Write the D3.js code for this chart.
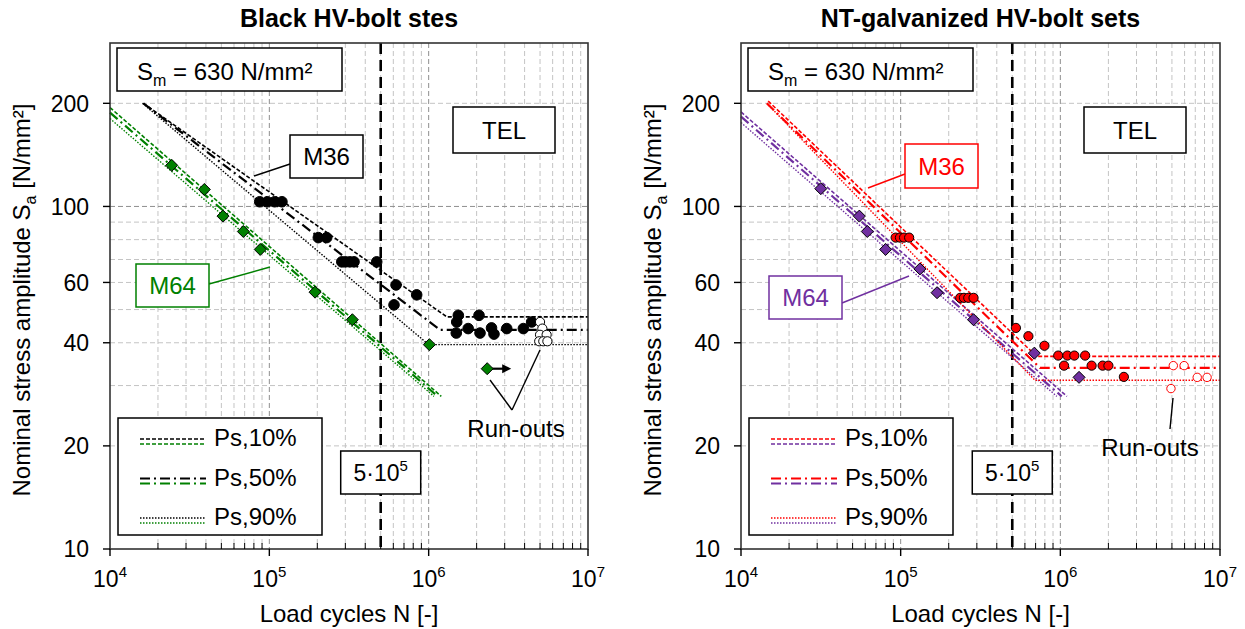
<!DOCTYPE html>
<html><head><meta charset="utf-8">
<script src="https://cdn.jsdelivr.net/npm/d3@7"></script>
<style>
body{margin:0;background:#fff}
svg{display:block}
text{font-family:"Liberation Sans",Arial,Helvetica,sans-serif;fill:#000}
</style>
</head><body>
<svg id="c" width="1245" height="629"></svg>
<script>
// ---------- axis / tick data ----------
const yTickValues = [10, 20, 40, 60, 100, 200];
const yGridValues = [20, 30, 40, 50, 60, 70, 80, 90, 100, 200];
const xTickExponents = [4, 5, 6, 7];
const legendLabels = ["Ps,10%", "Ps,50%", "Ps,90%"];
const panelTitles = ["Black HV-bolt stes", "NT-galvanized HV-bolt sets"];
const kneeCycles = [5e5];

// ---------- Black HV-bolt sets, M36 (black circles) ----------
const blackFailN = [87000, 97000, 108000, 120000, 203000, 229000, 285000, 300000, 320000, 340000, 472000, 624000, 841000, 606000,
  1535000, 2070000, 1500000, 1770000, 1490000, 2100000, 2480000, 2570000, 3090000, 3930000, 4430000];
const blackFailS = [103.2, 103.2, 103.2, 103.2, 81.1, 81.1, 68.9, 68.9, 68.9, 68.9, 68.9, 59.0, 55.2, 51.6,
  48.1, 48.1, 46.0, 44.0, 42.7, 42.7, 44.2, 42.4, 44.0, 44.0, 46.0];
const blackRunN = [5000000, 5170000, 5000000, 5500000, 4940000, 5240000, 5560000];
const blackRunS = [46.0, 44.0, 42.2, 42.2, 40.4, 40.4, 40.4];
// M36 black Ps lines
const blackP10N = [16200, 1300000, 1e7], blackP10S = [200, 47.6, 47.6];
const blackP50N = [16200, 1180000, 1e7], blackP50S = [200, 43.6, 43.6];
const blackP90N = [16000, 1000000, 1e7], blackP90S = [200, 39.5, 39.5];

// ---------- Black HV-bolt sets, M64 (green diamonds) ----------
const greenFailN = [24400, 39100, 51200, 68700, 87700, 193600, 332000, 1010000];
const greenFailS = [131.8, 112.1, 93.7, 84.5, 74.9, 56.2, 46.7, 39.5];
const greenRunN = [2330000];
const greenRunS = [33.6];
const greenP10N = [1e4, 1200000], greenP10S = [194.4, 27.9];
const greenP50N = [1e4, 1140000], greenP50S = [187.9, 27.9];
const greenP90N = [1e4, 1080000], greenP90S = [180.5, 27.9];

// ---------- NT-galvanized, M36 (red circles) ----------
const redFailN = [93000, 99000, 105000, 113000, 236000, 249000, 265000, 286000, 527000, 631000, 795000,
  970000, 1107000, 1224000, 1430000, 1055000, 1570000, 1840000, 2000000, 2500000];
const redFailS = [81.1, 81.1, 81.1, 81.1, 54.1, 54.1, 54.1, 54.1, 44.2, 41.8, 39.2,
  36.7, 36.7, 36.7, 36.7, 34.3, 34.3, 34.3, 34.3, 31.8];
const redRunN = [5100000, 5960000, 7200000, 8300000, 4930000];
const redRunS = [34.3, 34.3, 31.7, 31.7, 29.4];
const redP10N = [14800, 711000, 1e7], redP10S = [203, 36.5, 36.5];
const redP50N = [14500, 746000, 1e7], redP50S = [200, 33.8, 33.8];
const redP90N = [14800, 693000, 1e7], redP90S = [198, 31.1, 31.1];

// ---------- NT-galvanized, M64 (purple diamonds) ----------
const purpleFailN = [31600, 55100, 61800, 80500, 132000, 169000, 286000, 687000, 1310000];
const purpleFailS = [112.7, 93.7, 84.5, 74.9, 65.7, 56.0, 46.7, 37.3, 31.7];
const purpleP10N = [1e4, 1100000], purpleP10S = [188.7, 27.9];
const purpleP50N = [1e4, 1020000], purpleP50S = [182.9, 27.9];
const purpleP90N = [1e4, 950000], purpleP90S = [175.7, 27.9];

// ---------- styles ----------
const BLACK = "#000000", GREEN = "#008000", RED = "#ff0000", PURPLE = "#7030a0";
const lineStyles = {
  p10: {dash: "4,2", width: 1.6},
  p50: {dash: "10,4,2,4", width: 2.2},
  p90: {dash: "1.5,1.5", width: 1.4}
};

const svg = d3.select("#c");
const Y_TOP = 43, Y_BOT = 549;

const panels = [
  {
    x0: 110, x1: 588, title: panelTitles[0],
    colA: BLACK, colB: GREEN,
    lines: [
      {N: greenP10N, S: greenP10S, c: GREEN, s: "p10"},
      {N: greenP50N, S: greenP50S, c: GREEN, s: "p50"},
      {N: greenP90N, S: greenP90S, c: GREEN, s: "p90"},
      {N: blackP10N, S: blackP10S, c: BLACK, s: "p10"},
      {N: blackP50N, S: blackP50S, c: BLACK, s: "p50"},
      {N: blackP90N, S: blackP90S, c: BLACK, s: "p90"}
    ],
    points: [
      {N: blackFailN, S: blackFailS, shape: "circle", fill: "#000", stroke: "#000", r: 5.3},
      {N: blackRunN, S: blackRunS, shape: "circle", fill: "#fff", stroke: "#000", r: 4.6},
      {N: greenFailN, S: greenFailS, shape: "diamond", fill: GREEN, stroke: "#000", r: 6},
      {N: greenRunN, S: greenRunS, shape: "diamond", fill: GREEN, stroke: "#000", r: 6, arrow: true}
    ],
    m36: {box: [180, 135, 73, 43], leader: [180, 164, 144, 176], color: BLACK},
    m64: {box: [26, 264, 73, 43], leader: [99, 284, 160, 267], color: GREEN},
    runText: [406, 437],
    runLeaders: [[380, 380, 402, 410], [402, 410, 430, 350]]
  },
  {
    x0: 741, x1: 1220, title: panelTitles[1],
    colA: RED, colB: PURPLE,
    lines: [
      {N: purpleP10N, S: purpleP10S, c: PURPLE, s: "p10"},
      {N: purpleP50N, S: purpleP50S, c: PURPLE, s: "p50"},
      {N: purpleP90N, S: purpleP90S, c: PURPLE, s: "p90"},
      {N: redP10N, S: redP10S, c: RED, s: "p10"},
      {N: redP50N, S: redP50S, c: RED, s: "p50"},
      {N: redP90N, S: redP90S, c: RED, s: "p90"}
    ],
    points: [
      {N: purpleFailN, S: purpleFailS, shape: "diamond", fill: PURPLE, stroke: "#000", r: 6},
      {N: redFailN, S: redFailS, shape: "circle", fill: RED, stroke: "#000", r: 4.6},
      {N: redRunN, S: redRunS, shape: "circle", fill: "#fff", stroke: RED, r: 4.2}
    ],
    m36: {box: [164, 144, 73, 44], leader: [164, 174, 127, 188], color: RED},
    m64: {box: [28, 276, 73, 43], leader: [101, 303, 168, 276], color: PURPLE},
    runText: [409, 456],
    runLeaders: [[432, 398, 429, 429]]
  }
];

function superText(sel, base, sup, size, supSize) {
  sel.append("tspan").text(base);
  sel.append("tspan").attr("font-size", supSize).attr("dy", -size * 0.42).text(sup);
}

function boxText(g, x, y, w, h, color) {
  g.append("rect").attr("x", x).attr("y", y).attr("width", w).attr("height", h)
    .attr("fill", "#fff").attr("stroke", color).attr("stroke-width", 1.5);
}

panels.forEach((p, pi) => {
  const x = d3.scaleLog().domain([1e4, 1e7]).range([p.x0, p.x1]);
  const y = d3.scaleLog().domain([10, 300]).range([Y_BOT, Y_TOP]);
  const g = svg.append("g");
  const W = p.x1 - p.x0;

  // grid - vertical
  const vGrid = [];
  for (let k = 4; k <= 6; k++) for (let m = 1; m <= 9; m++) { const v = m * Math.pow(10, k); if (v > 1e4) vGrid.push(v); }
  g.selectAll(".vg").data(vGrid).join("line")
    .attr("x1", d => x(d)).attr("x2", d => x(d)).attr("y1", Y_TOP).attr("y2", Y_BOT)
    .attr("stroke", d => (d === 1e5 || d === 1e6) ? "#8f8f8f" : "#c4c4c4")
    .attr("stroke-width", 1).attr("stroke-dasharray", "5,3");
  g.selectAll(".hg").data(yGridValues).join("line")
    .attr("x1", p.x0).attr("x2", p.x1).attr("y1", d => y(d)).attr("y2", d => y(d))
    .attr("stroke", d => d === 100 ? "#8f8f8f" : "#c4c4c4")
    .attr("stroke-width", 1).attr("stroke-dasharray", "5,3");

  // knee line 5e5
  g.selectAll(".knee").data(kneeCycles).join("line")
    .attr("x1", d => x(d)).attr("x2", d => x(d)).attr("y1", Y_TOP).attr("y2", Y_BOT)
    .attr("stroke", "#000").attr("stroke-width", 2.6).attr("stroke-dasharray", "11,6");

  // S-N lines
  const lineGen = d3.line().x(d => x(d[0])).y(d => y(d[1]));
  p.lines.forEach(l => {
    const pts = l.N.map((n, i) => [n, l.S[i]]);
    g.append("path").attr("d", lineGen(pts)).attr("fill", "none")
      .attr("stroke", l.c).attr("stroke-width", lineStyles[l.s].width)
      .attr("stroke-dasharray", lineStyles[l.s].dash);
  });

  // points
  p.points.forEach(s => {
    const pts = s.N.map((n, i) => [n, s.S[i]]);
    if (s.arrow) {
      pts.forEach(d => {
        const cx = x(d[0]), cy = y(d[1]);
        g.append("line").attr("x1", cx).attr("x2", cx + 17).attr("y1", cy).attr("y2", cy)
          .attr("stroke", "#000").attr("stroke-width", 2.2);
        g.append("path").attr("d", `M${cx + 24},${cy} L${cx + 15},${cy - 4.5} L${cx + 15},${cy + 4.5} Z`).attr("fill", "#000");
      });
    }
    if (s.shape === "circle") {
      g.selectAll(null).data(pts).join("circle")
        .attr("cx", d => x(d[0])).attr("cy", d => y(d[1])).attr("r", s.r)
        .attr("fill", s.fill).attr("stroke", s.stroke).attr("stroke-width", 1);
    } else {
      const r = s.r;
      g.selectAll(null).data(pts).join("path")
        .attr("d", d => { const cx = x(d[0]), cy = y(d[1]); return `M${cx},${cy - r} L${cx + r},${cy} L${cx},${cy + r} L${cx - r},${cy} Z`; })
        .attr("fill", s.fill).attr("stroke", s.stroke).attr("stroke-width", 1);
    }
  });

  // frame
  g.append("rect").attr("x", p.x0).attr("y", Y_TOP).attr("width", W).attr("height", Y_BOT - Y_TOP)
    .attr("fill", "none").attr("stroke", "#333").attr("stroke-width", 1.6);

  // x ticks
  const minorX = [];
  for (let k = 4; k <= 6; k++) for (let m = 2; m <= 9; m++) minorX.push(m * Math.pow(10, k));
  g.selectAll(".mx").data(minorX).join("line")
    .attr("x1", d => x(d)).attr("x2", d => x(d)).attr("y1", Y_BOT).attr("y2", Y_BOT - 6)
    .attr("stroke", "#000").attr("stroke-width", 1);
  g.selectAll(".Mx").data(xTickExponents).join("line")
    .attr("x1", d => x(Math.pow(10, d))).attr("x2", d => x(Math.pow(10, d))).attr("y1", Y_BOT).attr("y2", Y_BOT + 7)
    .attr("stroke", "#000").attr("stroke-width", 1.4);
  xTickExponents.forEach(e => {
    const t = g.append("text").attr("x", x(Math.pow(10, e))).attr("y", 587)
      .attr("text-anchor", "middle").attr("font-size", 23);
    superText(t, "10", String(e), 23, 15);
  });
  // y ticks
  g.selectAll(".my").data(yTickValues).join("line")
    .attr("x1", p.x0 - 7).attr("x2", p.x0).attr("y1", d => y(d)).attr("y2", d => y(d))
    .attr("stroke", "#000").attr("stroke-width", 1.4);
  g.selectAll(".ty").data(yTickValues).join("text")
    .attr("x", p.x0 - 21).attr("y", d => y(d)).attr("dy", "0.36em")
    .attr("text-anchor", "end").attr("font-size", 23).text(d => d);

  // axis titles
  g.append("text").attr("x", p.x0 + W / 2).attr("y", 622).attr("text-anchor", "middle")
    .attr("font-size", 24).text("Load cycles N [-]");
  const yl = g.append("text").attr("transform", `translate(${p.x0 - 80},${(Y_TOP + Y_BOT) / 2 + 4}) rotate(-90)`)
    .attr("text-anchor", "middle").attr("font-size", 24);
  yl.append("tspan").text("Nominal stress amplitude S");
  yl.append("tspan").attr("font-size", 16).attr("dy", 6).text("a");
  yl.append("tspan").attr("dy", -6).text(" [N/mm²]");

  // title
  g.append("text").attr("x", p.x0 + W / 2).attr("y", 27).attr("text-anchor", "middle")
    .attr("font-size", 25).attr("font-weight", "bold").text(p.title);

  // Sm box
  boxText(g, p.x0 + 7, 48, 225, 43, "#000");
  const sm = g.append("text").attr("x", p.x0 + 27).attr("y", 80).attr("font-size", 24);
  sm.append("tspan").text("S");
  sm.append("tspan").attr("font-size", 16).attr("dy", 6).text("m");
  sm.append("tspan").attr("dy", -6).text(" = 630 N/mm²");

  // TEL box
  boxText(g, p.x0 + 343, 107, 102, 46, "#000");
  g.append("text").attr("x", p.x0 + 394).attr("y", 139).attr("text-anchor", "middle").attr("font-size", 24).text("TEL");

  // M36 / M64 labels
  [["M36", p.m36], ["M64", p.m64]].forEach(([lab, o]) => {
    g.append("line").attr("x1", p.x0 + o.leader[0]).attr("y1", o.leader[1]).attr("x2", p.x0 + o.leader[2]).attr("y2", o.leader[3])
      .attr("stroke", o.color).attr("stroke-width", 1.4);
    boxText(g, p.x0 + o.box[0], o.box[1], o.box[2], o.box[3], o.color);
    g.append("text").attr("x", p.x0 + o.box[0] + o.box[2] / 2).attr("y", o.box[1] + o.box[3] / 2 + 8.5)
      .attr("text-anchor", "middle").attr("font-size", 24).style("fill", o.color).text(lab);
  });

  // 5·10^5 label
  const kx = x(kneeCycles[0]);
  boxText(g, kx - 40, 451, 80, 43, "#000");
  const kt = g.append("text").attr("x", kx).attr("y", 481).attr("text-anchor", "middle").attr("font-size", 23);
  superText(kt, "5·10", "5", 23, 15);

  // Run-outs
  p.runLeaders.forEach(l => {
    g.append("line").attr("x1", p.x0 + l[0]).attr("y1", l[1]).attr("x2", p.x0 + l[2]).attr("y2", l[3])
      .attr("stroke", "#000").attr("stroke-width", 1.4);
  });
  g.append("text").attr("x", p.x0 + p.runText[0]).attr("y", p.runText[1]).attr("text-anchor", "middle")
    .attr("font-size", 24).text("Run-outs");

  // legend
  const lx = p.x0 + 8, ly = 418;
  boxText(g, lx, ly, 204, 117, "#000");
  ["p10", "p50", "p90"].forEach((s, i) => {
    const base = ly + 28 + i * 39.5;
    [[p.colA, -7], [p.colB, -2]].forEach(([c, off]) => {
      g.append("line").attr("x1", lx + 22).attr("x2", lx + 88).attr("y1", base + off).attr("y2", base + off)
        .attr("stroke", c).attr("stroke-width", lineStyles[s].width).attr("stroke-dasharray", lineStyles[s].dash);
    });
    g.append("text").attr("x", lx + 96).attr("y", base).attr("font-size", 24).text(legendLabels[i]);
  });
});
</script>
</body></html>
